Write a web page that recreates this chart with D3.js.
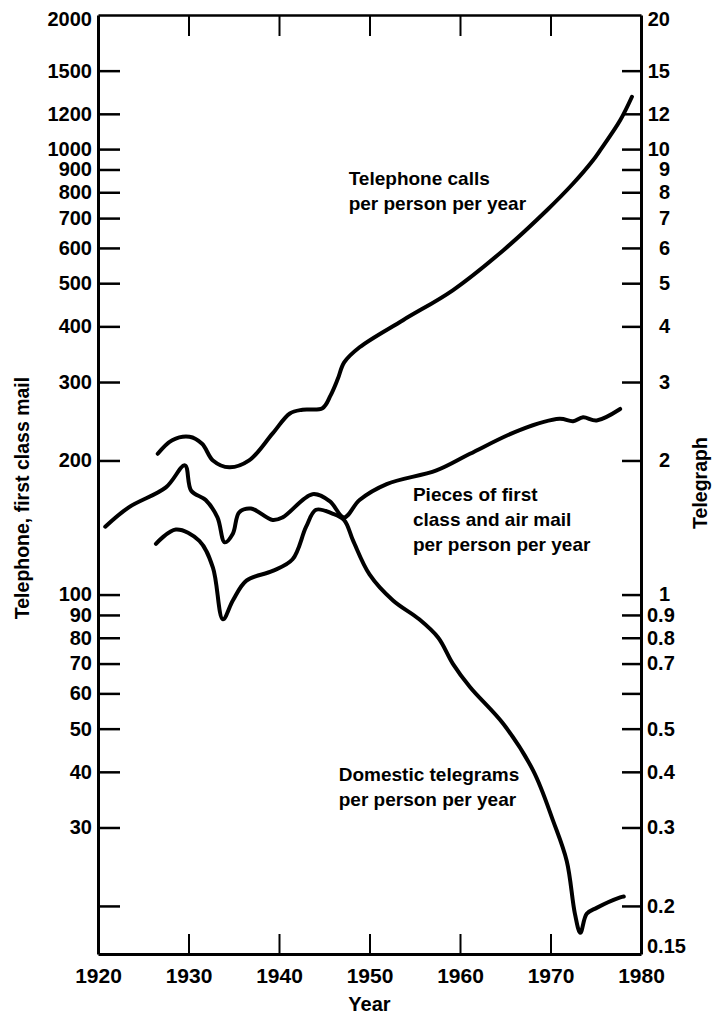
<!DOCTYPE html>
<html lang="en">
<head>
    <meta charset="utf-8" />
    <title>Telephone, first class mail and telegraph per person per year</title>
    <script src="https://d3js.org/d3.v7.min.js"></script>
    <style>
        body { margin: 0; background: #fff; }
        svg text { font-family: "Liberation Sans", Arial, sans-serif; font-weight: bold; fill: #000; }
        .curve { fill: none; stroke: #000; stroke-width: 4; stroke-linecap: round; stroke-linejoin: round; }
        .axis path, .axis line { stroke: #000; }
    </style>
</head>
<body>
<script>
    // ---- data ----
    // telephone calls per person per year (left axis)
    var phoneYears = [1926.6, 1928.2, 1930.1, 1931.5, 1932.7, 1934.5, 1936.7, 1939.3, 1941.2, 1942.6, 1944.8, 1945.7, 1946.5, 1947.2, 1948.9, 1953.7, 1959.2, 1964.8, 1969.6, 1972.5, 1974.7, 1975.5, 1977.7, 1979.0];
    var phoneCalls = [207, 222, 226, 218, 200, 193, 200, 230, 255, 260, 262, 280, 305, 332, 359, 413, 482, 593, 729, 837, 944, 995, 1161, 1311];

    // pieces of first class and air mail per person per year (left axis)
    var mailYears = [1920.8, 1923.4, 1927.5, 1929.6, 1930.3, 1931.9, 1933.2, 1934.0, 1934.9, 1935.6, 1936.9, 1939.3, 1940.4, 1943.7, 1945.6, 1947.2, 1948.9, 1951.9, 1957.4, 1961.1, 1966.6, 1971.0, 1972.5, 1973.6, 1975.1, 1977.7];
    var mailPieces = [142, 157, 174, 195, 171, 163, 149, 131, 137, 153, 156, 147, 149, 168, 162, 149, 163, 177, 190, 207, 234, 248, 245, 250, 246, 261];

    // domestic telegrams per person per year (right axis)
    var telegramYears = [1926.4, 1928.6, 1931.2, 1932.7, 1933.8, 1934.9, 1936.4, 1939.3, 1941.5, 1943.0, 1944.1, 1945.9, 1947.2, 1948.2, 1950.0, 1952.6, 1955.5, 1957.6, 1959.2, 1961.1, 1964.8, 1968.1, 1970.3, 1971.8, 1972.7, 1973.3, 1974.0, 1975.1, 1977.7, 1978.1];
    var telegrams = [1.30, 1.40, 1.32, 1.15, 0.88, 0.97, 1.075, 1.13, 1.20, 1.42, 1.55, 1.52, 1.47, 1.32, 1.11, 0.97, 0.88, 0.80, 0.70, 0.62, 0.512, 0.402, 0.31, 0.252, 0.192, 0.174, 0.192, 0.198, 0.209, 0.21];

    // axis ticks
    var yearTicks = [1920, 1930, 1940, 1950, 1960, 1970, 1980];
    var leftTicks = [20, 30, 40, 50, 60, 70, 80, 90, 100, 200, 300, 400, 500, 600, 700, 800, 900, 1000, 1200, 1500, 2000];
    var leftUnlabeled = [20];
    var rightTicks = [0.15, 0.2, 0.3, 0.4, 0.5, 0.6, 0.7, 0.8, 0.9, 1, 2, 3, 4, 5, 6, 7, 8, 9, 10, 12, 15, 20];
    var rightUnlabeled = [0.6];

    // annotations: [year, value on left axis, lines]
    var notes = [
        [1947.7, 831, ["Telephone calls", "per person per year"]],
        [1954.8, 162, ["Pieces of first", "class and air mail", "per person per year"]],
        [1946.6, 38.1, ["Domestic telegrams", "per person per year"]]
    ];

    // ---- chart ----
    var width = 714, height = 1017;
    var padLeft = 98, padRight = 641, padTop = 15, padBottom = 954;

    var svg = d3.select("body").append("svg")
        .attr("width", width)
        .attr("height", height);

    var x = d3.scaleLinear().domain([1920, 1980]).range([padLeft, padRight]);
    var y = d3.scaleLog().domain([15.6, 2000]).range([padBottom, padTop]);
    var yR = d3.scaleLog().domain([0.156, 20]).range([padBottom, padTop]);

    // left axis
    var gl = svg.append("g").attr("class", "axis")
        .attr("transform", "translate(" + padLeft + ",0)")
        .call(d3.axisLeft(y).tickValues(leftTicks).tickSizeInner(-22).tickSizeOuter(0).tickPadding(6)
            .tickFormat(function (d) { return leftUnlabeled.indexOf(d) >= 0 ? "" : d; }));
    gl.select(".domain").attr("stroke-width", 3);
    gl.selectAll(".tick line").attr("stroke-width", 2.5);
    gl.selectAll(".tick text").attr("font-size", 20).attr("font-family", null);
    gl.selectAll(".tick").filter(function (d) { return d === 2000; })
        .select("line").remove();
    gl.selectAll(".tick").filter(function (d) { return d === 2000; })
        .select("text").attr("dy", "0.5em");

    // right axis
    var gr = svg.append("g").attr("class", "axis")
        .attr("transform", "translate(" + padRight + ",0)")
        .call(d3.axisRight(yR).tickValues(rightTicks).tickSizeInner(-19).tickSizeOuter(0).tickPadding(6)
            .tickFormat(function (d) { return rightUnlabeled.indexOf(d) >= 0 ? "" : d; }));
    gr.select(".domain").attr("stroke-width", 3);
    gr.selectAll(".tick line").attr("stroke-width", 2.5);
    gr.selectAll(".tick text")
        .attr("font-size", 20).attr("font-family", null)
        .attr("text-anchor", function (d) { return d >= 1 ? "end" : "start"; })
        .attr("x", function (d) { return d >= 1 ? 29 : 6; });
    gr.selectAll(".tick").filter(function (d) { return d === 0.15 || d === 20; })
        .select("line").remove();
    gr.selectAll(".tick").filter(function (d) { return d === 0.15; })
        .select("text").attr("dy", "-0.45em");
    gr.selectAll(".tick").filter(function (d) { return d === 20; })
        .select("text").attr("dy", "0.5em");

    // bottom axis
    var gb = svg.append("g").attr("class", "axis")
        .attr("transform", "translate(0," + padBottom + ")")
        .call(d3.axisBottom(x).tickValues(yearTicks).tickSizeInner(-20).tickSizeOuter(0).tickPadding(14)
            .tickFormat(d3.format("d")));
    gb.select(".domain").attr("stroke-width", 3);
    gb.selectAll(".tick line").attr("stroke-width", 2);
    gb.selectAll(".tick text").attr("font-size", 21).attr("font-family", null);

    // top axis, ticks only
    var gt = svg.append("g").attr("class", "axis")
        .attr("transform", "translate(0," + padTop + ")")
        .call(d3.axisTop(x).tickValues(yearTicks.slice(1, -1)).tickSizeInner(-21).tickSizeOuter(0).tickFormat(""));
    gt.select(".domain").attr("stroke-width", 2.5);
    gt.selectAll(".tick line").attr("stroke-width", 2);

    // axis titles
    svg.append("text")
        .attr("transform", "translate(22,498) rotate(-90)")
        .attr("text-anchor", "middle").attr("dy", "0.35em")
        .attr("font-size", 19.5)
        .text("Telephone, first class mail");
    svg.append("text")
        .attr("transform", "translate(700,483) rotate(-90)")
        .attr("text-anchor", "middle").attr("dy", "0.35em")
        .attr("font-size", 19.5)
        .text("Telegraph");
    svg.append("text")
        .attr("x", x(1950)).attr("y", 1011)
        .attr("text-anchor", "middle")
        .attr("font-size", 20)
        .text("Year");

    // curves
    function series(years, vals, scale) {
        return years.map(function (t, i) { return [x(t), scale(vals[i])]; });
    }
    var line = d3.line().curve(d3.curveCatmullRom.alpha(0.5));

    svg.append("path").attr("class", "curve").attr("d", line(series(phoneYears, phoneCalls, y)));
    svg.append("path").attr("class", "curve").attr("d", line(series(mailYears, mailPieces, y)));
    svg.append("path").attr("class", "curve").attr("d", line(series(telegramYears, telegrams, yR)));

    // annotations
    notes.forEach(function (n) {
        var t = svg.append("text")
            .attr("x", x(n[0])).attr("y", y(n[1]))
            .attr("font-size", 19);
        n[2].forEach(function (s, i) {
            t.append("tspan").attr("x", x(n[0])).attr("dy", i ? 25 : 0).text(s);
        });
    });
</script>
</body>
</html>
